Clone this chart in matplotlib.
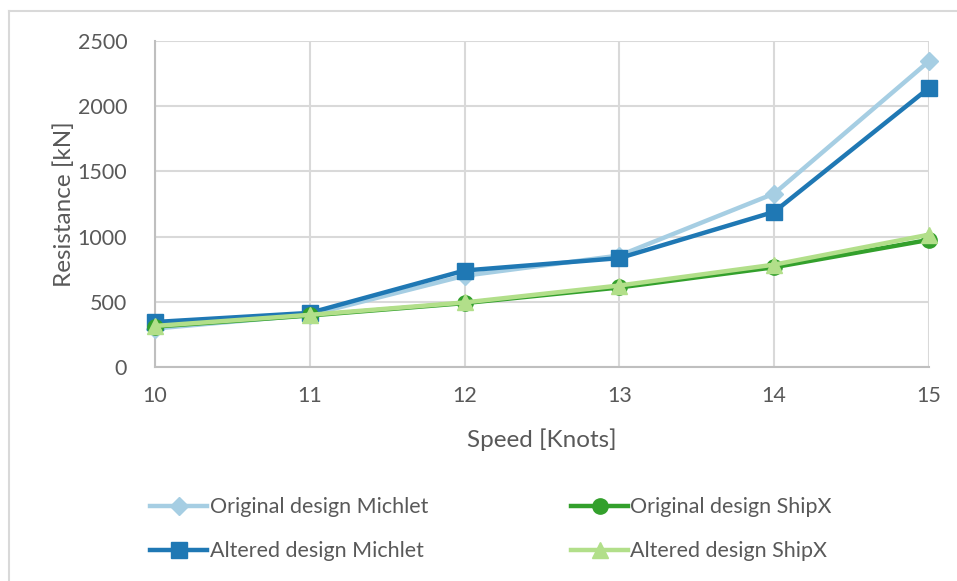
import matplotlib
matplotlib.use("Agg")
import matplotlib.pyplot as plt
from matplotlib.lines import Line2D

# resistance vs speed, Michlet and ShipX, original and altered hull
speed = [10, 11, 12, 13, 14, 15]
orig_michlet = [295, 400, 700, 855, 1330, 2345]
alt_michlet = [345, 415, 740, 835, 1190, 2140]
orig_shipx = [310, 395, 490, 610, 765, 975]
alt_shipx = [315, 400, 495, 625, 785, 1015]

grey_txt = "#595959"
plt.rcParams["font.family"] = ["Lato", "DejaVu Sans"]

fig = plt.figure(figsize=(9.57, 5.81), dpi=100)
ax = fig.add_axes([155 / 957, 1 - 367 / 581, 774 / 957, 326 / 581])

ax.plot(speed, orig_michlet, color="#a6cee3", lw=3.2, marker="D", ms=9,
        label="Original design Michlet", zorder=3, clip_on=False)
ax.plot(speed, alt_michlet, color="#1f78b4", lw=3.2, marker="s", ms=11,
        label="Altered design Michlet", zorder=4, clip_on=False)
ax.plot(speed, orig_shipx, color="#33a02c", lw=3.2, marker="o", ms=11,
        label="Original design ShipX", zorder=5, clip_on=False)
ax.plot(speed, alt_shipx, color="#b2df8a", lw=3.2, marker="^", ms=11,
        label="Altered design ShipX", zorder=6, clip_on=False)

ax.set_xlim(10, 15)
ax.set_ylim(0, 2500)
ax.set_xticks(speed)
ax.set_yticks(range(0, 2501, 500))
ax.grid(True, color="#d9d9d9", lw=1.5)
ax.set_axisbelow(True)
for s in ["top", "right"]:
    ax.spines[s].set_visible(False)
for s in ["left", "bottom"]:
    ax.spines[s].set_color("#bfbfbf")
    ax.spines[s].set_linewidth(1.5)
ax.tick_params(axis="x", length=0, labelsize=15.5, labelcolor=grey_txt, pad=14)
ax.tick_params(axis="y", length=0, labelsize=15.5, labelcolor=grey_txt, pad=20)
ax.set_xlabel("Speed [Knots]", fontsize=17.5, color=grey_txt, labelpad=16)
ax.set_ylabel("Resistance [kN]", fontsize=17.5, color=grey_txt, labelpad=2)

fig.legend(loc="upper left", bbox_to_anchor=(131 / 957, 1 - 478 / 581),
           ncol=2, frameon=False, fontsize=15.5, labelcolor=grey_txt,
           handlelength=2.65, handletextpad=0.1, columnspacing=6.65,
           labelspacing=1.1)

# outer chart frame (top and left edges)
fig.add_artist(Line2D([9 / 957, 1], [1 - 11 / 581, 1 - 11 / 581],
                      color="#d9d9d9", lw=1.5, transform=fig.transFigure))
fig.add_artist(Line2D([9 / 957, 9 / 957], [0, 1 - 11 / 581],
                      color="#d9d9d9", lw=1.5, transform=fig.transFigure))

fig.savefig("out.png", dpi=100)
